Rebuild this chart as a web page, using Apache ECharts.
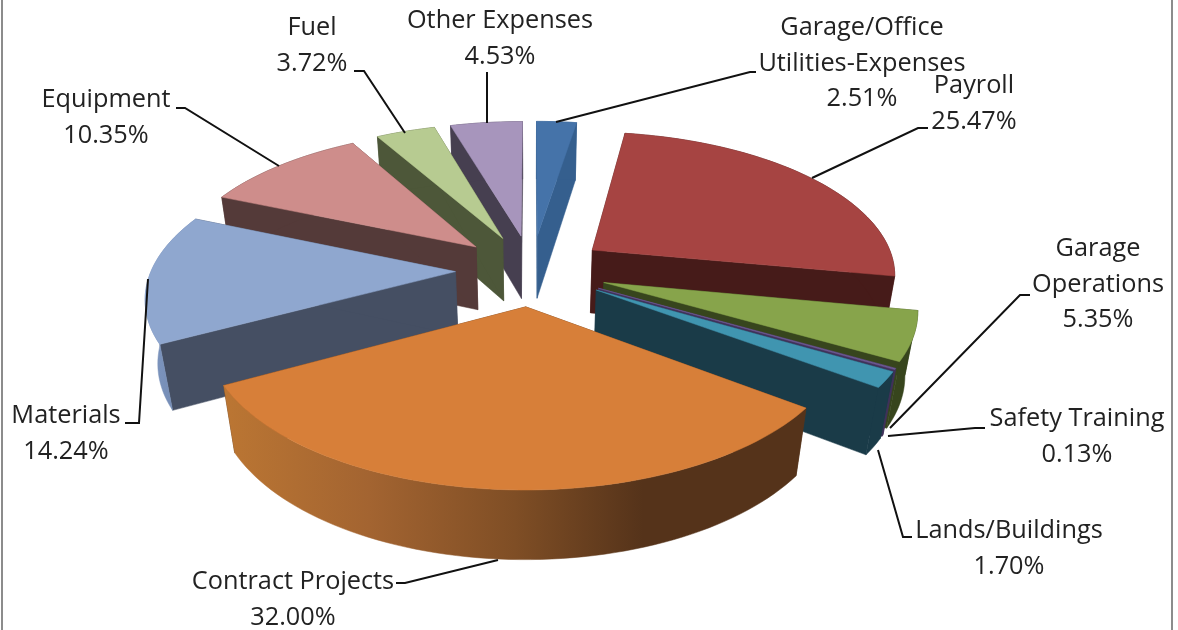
<!DOCTYPE html>
<html><head><meta charset="utf-8">
<style>html,body{margin:0;padding:0;background:#fff}#c{width:1178px;height:630px}</style>
<script src="https://cdn.jsdelivr.net/npm/echarts@6/dist/echarts.min.js"></script>
</head><body><div id="c"></div>
<script>
// ---- data ----
const categories = ['Garage/Office\nUtilities-Expenses','Payroll','Garage\nOperations','Safety Training','Lands/Buildings','Contract Projects','Materials','Equipment','Fuel','Other Expenses'];
const shares = [2.51,25.47,5.35,0.13,1.70,32.00,14.24,10.35,3.72,4.53];

// ---- styles ----
const topColors  = ['#4573a9','#a64442','#87a44b','#6e5a94','#4095b0','#d77f39','#8fa7cf','#ce8d8b','#b7cb91','#a795bc'];
const wallColors = ['#355f8e','#461b19','#37451d','#40325a','#1a3b48','#57341a','#454f63','#543a39','#4d5739','#463f50'];
const outerStops = {5:[[0,'#bb7633'],[0.25,'#a36431'],[0.5,'#7f4e25'],[0.72,'#55331a'],[1,'#55331a']],6:[[0,'#7f97c0'],[1,'#6a82ab']]};
const paintRank  = [1,6,7,8,9,10,5,4,3,2];

// ---- projection parameters (pie radius = 1) ----
const P = {cx:531.5,cy:270,A:304,B:142,k:0.155,c:0.033,D:65.7,explode:0.25};
function project(u,v,bottom){
  const w = 1 + P.k*v + (bottom?P.c:0);
  return [P.cx + P.A*u/w, P.cy + (-P.B*v + (bottom?P.D:0))/w];
}

// ---- label layout ----
const labelLayout = [
 {at:[862,27],line:[[556,122],[750,72],[756,72]]},
 {at:[974,85],line:[[812,178],[918,128],[928,128]]},
 {at:[1098,248],line:[[890,428],[1020,295],[1030,295]]},
 {at:[1077,418],line:[[888,436],[975,428],[985,428]]},
 {at:[1009,530],line:[[878,450],[903,537],[912,537]]},
 {at:[293,581],line:[[498,560],[405,583],[396,583]]},
 {at:[66,415],line:[[148,279],[139,423],[125,423]]},
 {at:[106,99],line:[[279,166],[185,108],[176,108]]},
 {at:[312,27],line:[[405,133],[364,71],[354,71]]},
 {at:[500,20],line:[[487,123],[487,75],[487,72]]}
];
const lineHeight = 35.5;

const total = shares.reduce((a,b)=>a+b,0);
const chart = echarts.init(document.getElementById('c'));

function renderSlice(params, api){
  const i = params.dataIndex, val = api.value(0);
  let before = 0; for(let j=0;j<i;j++) before += shares[j];
  const a0 = before/total*2*Math.PI, a1 = (before+val)/total*2*Math.PI, mid=(a0+a1)/2;
  const ou = P.explode*Math.sin(mid), ov = P.explode*Math.cos(mid);
  const n = Math.max(4,Math.ceil((a1-a0)/0.03));
  const topArc=[],botArc=[];
  for(let s=0;s<=n;s++){
    const t=a0+(a1-a0)*s/n, u=ou+Math.sin(t), v=ov+Math.cos(t);
    topArc.push(project(u,v,false)); botArc.push(project(u,v,true));
  }
  const apexT=project(ou,ov,false), apexB=project(ou,ov,true);
  const z=paintRank[i]*10, wall=wallColors[i], children=[];
  const poly=(pts,fill,zz)=>({type:'polygon',z2:zz,shape:{points:pts},style:{fill:fill,stroke:fill,lineWidth:0.5}});
  children.push(poly([apexT,apexB,botArc[0],topArc[0]],wall,z));
  children.push(poly([apexT,apexB,botArc[n],topArc[n]],wall,z));
  let outerFill=wall;
  if(outerStops[i]){
    const xs=topArc.concat(botArc).map(p=>p[0]), x0=Math.min(...xs), x1=Math.max(...xs);
    outerFill=new echarts.graphic.LinearGradient(x0,0,x1,0,outerStops[i].map(s=>({offset:s[0],color:s[1]})),true);
  }
  children.push(poly(topArc.concat(botArc.slice().reverse()),outerFill,z+1));
  children.push(poly([apexT].concat(topArc),topColors[i],z+2));
  const L=labelLayout[i];
  children.push({type:'polyline',z2:500,shape:{points:L.line},style:{fill:null,stroke:'#111',lineWidth:2}});
  const lines=categories[i].split('\n').concat([val.toFixed(2)+'%']);
  lines.forEach((t,k)=>children.push({type:'text',z2:501,x:L.at[0],y:L.at[1]+1+k*lineHeight,
    style:{text:t,font:'25.3px "Open Sans"',fill:'#222',align:'center',verticalAlign:'middle'}}));
  return {type:'group',children};
}

chart.setOption({
  animation:false,
  backgroundColor:'#fff',
  graphic:[
    {type:'rect',shape:{x:2,y:-4,width:1170,height:640},style:{fill:null,stroke:'#8c8c8c',lineWidth:2},silent:true}
  ],
  series:[{type:'custom',coordinateSystem:'none',renderItem:renderSlice,silent:true,clip:false,
    data:categories.map((c,i)=>({name:c.replace('\n',' '),value:[shares[i]]}))}]
});
</script></body></html>
